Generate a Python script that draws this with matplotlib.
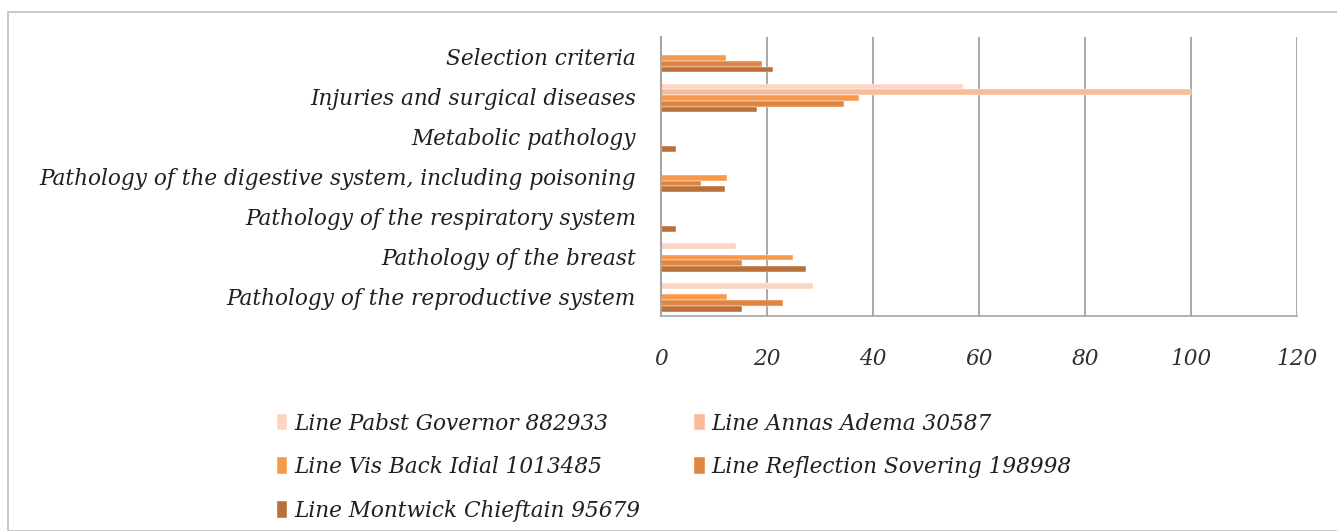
import matplotlib
matplotlib.use("Agg")
import matplotlib.pyplot as plt
import numpy as np
from matplotlib.patches import Rectangle

categories = [
    "Selection criteria",
    "Injuries and surgical diseases",
    "Metabolic pathology",
    "Pathology of the digestive system, including poisoning",
    "Pathology of the respiratory system",
    "Pathology of the breast",
    "Pathology of the reproductive system",
]
series_names = [
    "Line Pabst Governor 882933",
    "Line Annas Adema 30587",
    "Line Vis Back Idial 1013485",
    "Line Reflection Sovering 198998",
    "Line Montwick Chieftain 95679",
]
pabst = [0, 57.0, 0, 0, 0, 14.2, 28.6]
annas = [0, 100.0, 0, 0, 0, 0, 0]
visback = [12.3, 37.4, 0, 12.4, 0, 24.9, 12.4]
reflection = [19.1, 34.5, 0, 7.6, 0, 15.2, 23.1]
montwick = [21.2, 18.1, 2.9, 12.0, 2.9, 27.3, 15.2]
series_values = [pabst, annas, visback, reflection, montwick]
colors = ["#FCD5C2", "#FABB98", "#F7994A", "#DF8540", "#B9703A"]
xticks = [0, 20, 40, 60, 80, 100, 120]

FS = 15.6
fig = plt.figure(figsize=(13.37, 5.31), dpi=100)
font = {"family": "DejaVu Serif", "style": "italic", "size": FS}

# chart border
fig.patches.append(Rectangle((8 / 1337, 0), 1.2, 1 - 12 / 531, transform=fig.transFigure,
                             fill=False, edgecolor="#BFBFBF", linewidth=1.2))

ax = fig.add_axes([661 / 1337, 1 - 316 / 531, (1297 - 661) / 1337, (316 - 37) / 531])
n = len(categories)
ypos = np.arange(n)[::-1]  # first category at top
bh = 0.143
shift = -0.03
for i, (vals, col, name) in enumerate(zip(series_values, colors, series_names)):
    offs = (i - 2) * bh
    ax.barh(ypos - offs + shift, vals, height=bh, color=col, edgecolor="white",
            linewidth=0.3, label=name, zorder=3)

ax.set_xlim(0, 120)
ax.set_ylim(-0.5, n - 0.5)
ax.set_xticks(xticks)
ax.set_xticklabels([str(t) for t in xticks], fontdict=font, color="#303030")
ax.set_yticks(ypos)
ax.set_yticklabels(categories, fontdict=font, color="#202020")
ax.tick_params(axis="both", length=0)
ax.tick_params(axis="x", pad=23)
ax.tick_params(axis="y", pad=18)
ax.grid(axis="x", color="#9A9A9A", linewidth=1.2, zorder=0)
for s in ["top", "right"]:
    ax.spines[s].set_visible(False)
ax.spines["left"].set_color("#A6A6A6")
ax.spines["left"].set_linewidth(1.5)
ax.spines["left"].set_zorder(4)
ax.spines["bottom"].set_color("#A6A6A6")
ax.spines["bottom"].set_linewidth(1.2)

handles, labels = ax.get_legend_handles_labels()
# reorder so ncol=2 fills row-wise
order = [0, 2, 4, 1, 3]
leg = fig.legend([handles[k] for k in order], [labels[k] for k in order],
                 loc="upper left", bbox_to_anchor=(257 / 1337, 1 - 393 / 531),
                 ncol=2, frameon=False, prop={"family": "DejaVu Serif", "style": "italic", "size": FS},
                 handlelength=0.5, handleheight=0.8, handletextpad=0.3,
                 columnspacing=2.5, labelspacing=1.0)
for t in leg.get_texts():
    t.set_color("#202020")

fig.savefig("out.png", dpi=100)
